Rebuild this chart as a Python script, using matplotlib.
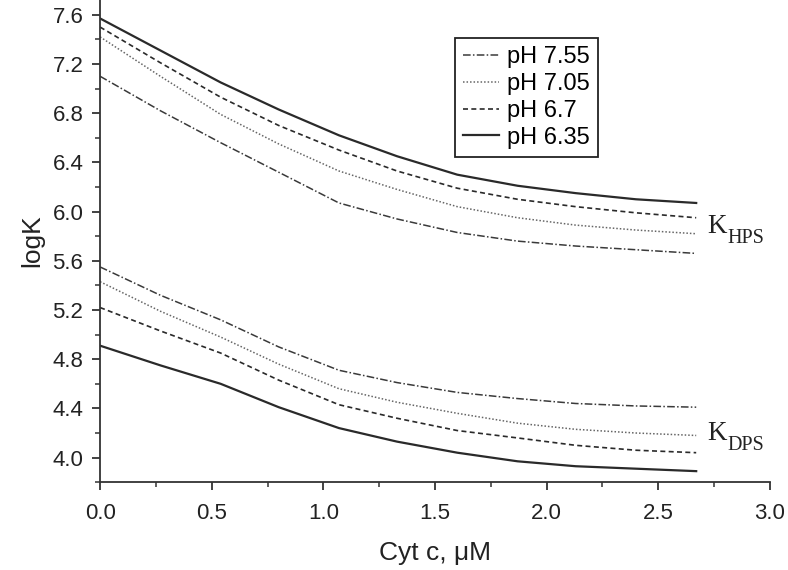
import numpy as np
import matplotlib
matplotlib.use("Agg")
import matplotlib.pyplot as plt
from matplotlib.ticker import MultipleLocator

plt.rcParams['font.family'] = ['Liberation Sans', 'DejaVu Sans']

# Cyt c concentration, uM
cyt = [0.0, 0.27, 0.54, 0.8, 1.07, 1.33, 1.6, 1.87, 2.13, 2.4, 2.67]

# logK_HPS per pH
hps_755 = [7.10, 6.82, 6.56, 6.32, 6.07, 5.94, 5.83, 5.76, 5.72, 5.69, 5.66]
hps_705 = [7.42, 7.10, 6.79, 6.55, 6.33, 6.18, 6.04, 5.95, 5.89, 5.85, 5.82]
hps_670 = [7.50, 7.21, 6.93, 6.70, 6.50, 6.33, 6.19, 6.10, 6.04, 5.99, 5.95]
hps_635 = [7.57, 7.31, 7.05, 6.83, 6.62, 6.45, 6.30, 6.21, 6.15, 6.10, 6.07]

# logK_DPS per pH
dps_755 = [5.55, 5.32, 5.12, 4.90, 4.71, 4.61, 4.53, 4.48, 4.44, 4.42, 4.41]
dps_705 = [5.43, 5.19, 4.98, 4.76, 4.56, 4.45, 4.36, 4.28, 4.23, 4.20, 4.18]
dps_670 = [5.22, 5.03, 4.85, 4.63, 4.43, 4.32, 4.22, 4.16, 4.10, 4.06, 4.04]
dps_635 = [4.91, 4.75, 4.60, 4.41, 4.24, 4.13, 4.04, 3.97, 3.93, 3.91, 3.89]

labels = ["pH 7.55", "pH 7.05", "pH 6.7", "pH 6.35"]
styles = [dict(ls=(0, (5, 1.5, 1, 1.5)), lw=1.1, color="#3a3a3a"),
          dict(ls=(0, (1, 1.3)), lw=1.1, color="#666666"),
          dict(ls=(0, (3, 2)), lw=1.2, color="#2a2a2a"),
          dict(ls="-", lw=1.6, color="#2a2a2a")]

fig = plt.figure(figsize=(7.88, 5.7), dpi=100)
ax = fig.add_axes([0.127, 0.154, 0.85, 0.846])

hps = [hps_755, hps_705, hps_670, hps_635]
dps = [dps_755, dps_705, dps_670, dps_635]
for lab, st, h, d in zip(labels, styles, hps, dps):
    ax.plot(cyt, h, label=lab, **st)
    ax.plot(cyt, d, **st)

ax.set_xlim(0, 3.0)
ax.set_ylim(3.80, 7.72)
ax.xaxis.set_major_locator(MultipleLocator(0.5))
ax.xaxis.set_minor_locator(MultipleLocator(0.25))
ax.yaxis.set_minor_locator(MultipleLocator(0.2))
ax.set_xticklabels([f"{v:.1f}" for v in ax.get_xticks()])
yt = np.arange(4.0, 7.61, 0.4)
ax.set_yticks(yt)
ax.set_yticklabels([f"{v:.1f}" for v in yt])

for s in ["top", "right"]:
    ax.spines[s].set_visible(False)
for s in ["left", "bottom"]:
    ax.spines[s].set_linewidth(1.3)
    ax.spines[s].set_color("#333333")
ax.tick_params(which="major", direction="out", length=6, width=1.3, labelsize=16, pad=6,
               colors="#333333", labelcolor="#222222")
ax.tick_params(axis="x", which="major", pad=9)
ax.tick_params(which="minor", direction="out", length=3.5, width=1.1, colors="#333333")

ax.set_xlabel("Cyt c, μM", fontsize=19, color="#222222", labelpad=12)
ax.set_ylabel("logK", fontsize=19, color="#222222", labelpad=6)

leg = ax.legend(loc="upper left", bbox_to_anchor=(0.53, 0.921), fontsize=17,
                frameon=True, fancybox=False, edgecolor="#222222", framealpha=1,
                handlelength=1.5, handletextpad=0.35, labelspacing=0.2,
                borderpad=0.35, borderaxespad=0)
leg.get_frame().set_linewidth(1.3)

# curve group labels: K with subscript
for yk, sub in [(5.825, "HPS"), (4.14, "DPS")]:
    ax.text(2.72, yk, "K", fontsize=19.5, family="Liberation Serif", color="#222222",
            va="baseline", ha="left")
    ax.annotate(sub, xy=(2.72, yk), xytext=(14.5, -7.2), textcoords="offset points",
                fontsize=14.5, family="Liberation Serif", color="#222222",
                va="baseline", ha="left")

fig.savefig("out.png", dpi=100)
